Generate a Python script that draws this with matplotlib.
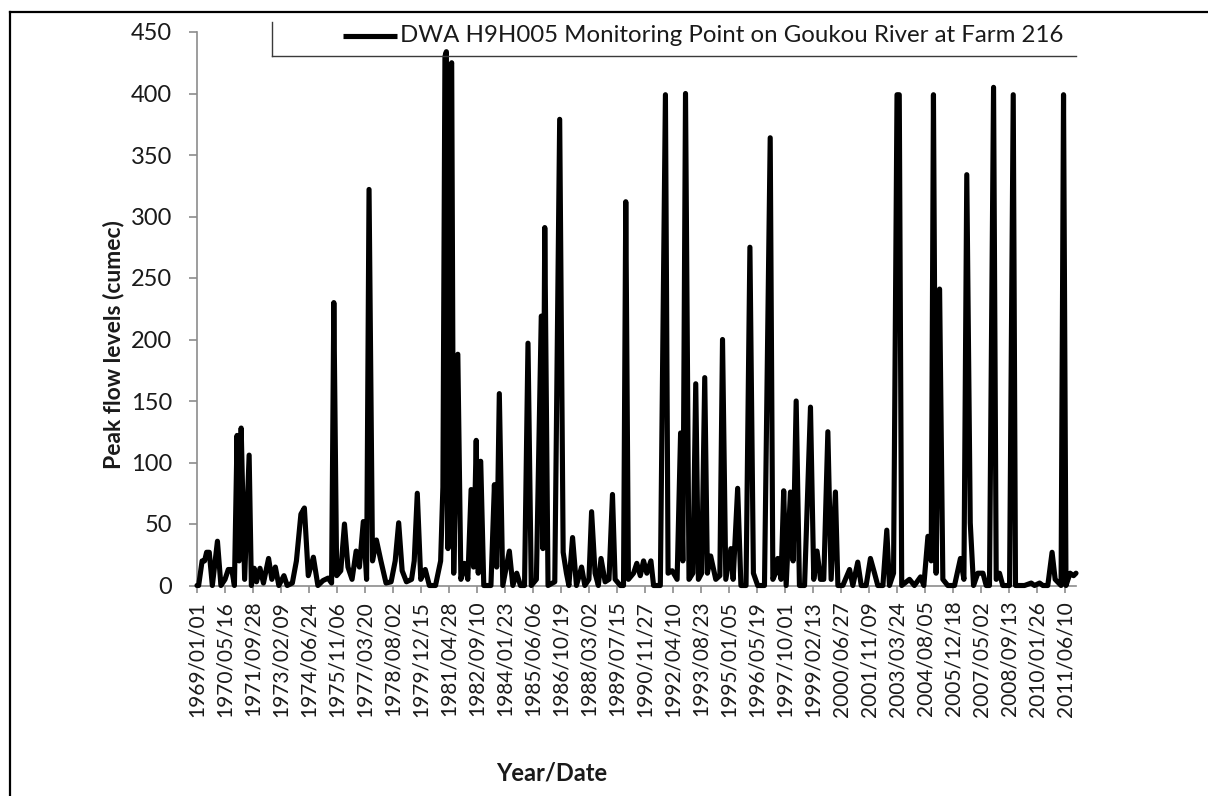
import matplotlib
matplotlib.use('Agg')
import matplotlib.pyplot as plt
import pandas as pd
from matplotlib.lines import Line2D

plt.rcParams['font.family'] = ['Lato', 'DejaVu Sans']

# ---- data (decimal years, peak flow in cumec) ----
years = [
    1969.00, 1969.08, 1969.25, 1969.37, 1969.47, 1969.60, 1969.75, 1970.00, 1970.17, 1970.37,
    1970.53, 1970.70, 1970.83, 1970.96, 1971.06, 1971.16, 1971.33, 1971.55, 1971.66, 1971.80,
    1971.91, 1972.08, 1972.25, 1972.50, 1972.66, 1972.83, 1973.00, 1973.25, 1973.41, 1973.66,
    1973.86, 1974.08, 1974.25, 1974.44, 1974.69, 1974.91, 1975.16, 1975.41, 1975.58, 1975.69,
    1975.83, 1976.03, 1976.21, 1976.38, 1976.58, 1976.78, 1976.94, 1977.13, 1977.29, 1977.41,
    1977.58, 1977.77, 1977.99, 1978.24, 1978.49, 1978.69, 1978.86, 1979.03, 1979.24, 1979.49,
    1979.62, 1979.77, 1979.94, 1980.16, 1980.36, 1980.66, 1980.91, 1981.02, 1981.12, 1981.19,
    1981.27, 1981.36, 1981.45, 1981.55, 1981.75, 1981.90, 1982.07, 1982.24, 1982.40, 1982.52,
    1982.65, 1982.75, 1982.87, 1983.02, 1983.37, 1983.54, 1983.65, 1983.78, 1983.95, 1984.27,
    1984.44, 1984.63, 1984.81, 1985.01, 1985.18, 1985.34, 1985.59, 1985.83, 1985.91, 1986.00,
    1986.16, 1986.49, 1986.73, 1986.90, 1987.06, 1987.18, 1987.36, 1987.55, 1987.80, 1987.96,
    1988.16, 1988.29, 1988.46, 1988.62, 1988.75, 1988.95, 1989.14, 1989.31, 1989.44, 1989.69,
    1989.85, 1989.96, 1990.09, 1990.34, 1990.50, 1990.67, 1990.83, 1990.99, 1991.19, 1991.32,
    1991.65, 1991.90, 1992.03, 1992.23, 1992.47, 1992.64, 1992.75, 1992.88, 1993.05, 1993.24,
    1993.38, 1993.51, 1993.67, 1993.82, 1993.95, 1994.11, 1994.36, 1994.56, 1994.69, 1994.85,
    1995.10, 1995.21, 1995.43, 1995.59, 1995.84, 1996.03, 1996.20, 1996.41, 1996.74, 1997.02,
    1997.15, 1997.28, 1997.39, 1997.55, 1997.68, 1997.80, 1998.01, 1998.14, 1998.29, 1998.45,
    1998.70, 1998.99, 1999.15, 1999.31, 1999.48, 1999.64, 1999.84, 2000.00, 2000.21, 2000.33,
    2000.57, 2000.90, 2001.06, 2001.30, 2001.47, 2001.71, 2001.92, 2002.12, 2002.28, 2002.53,
    2002.72, 2002.85, 2003.05, 2003.22, 2003.33, 2003.45, 2003.83, 2004.07, 2004.37, 2004.53,
    2004.73, 2004.89, 2005.00, 2005.13, 2005.30, 2005.46, 2005.70, 2006.03, 2006.32, 2006.49,
    2006.63, 2006.80, 2006.96, 2007.17, 2007.42, 2007.58, 2007.74, 2007.94, 2008.07, 2008.23,
    2008.39, 2008.72, 2008.90, 2009.01, 2009.45, 2009.78, 2009.94, 2010.19, 2010.35, 2010.59,
    2010.80, 2010.95, 2011.24, 2011.36, 2011.48, 2011.68, 2011.85, 2011.97,
]
flow = [
    0, 0, 20, 20, 27, 27, 0, 36, 0, 5,
    13, 13, 0, 122, 20, 128, 5, 106, 0, 14,
    3, 14, 2, 22, 5, 15, 0, 8, 0, 2,
    20, 58, 63, 8, 23, 0, 4, 6, 2, 230,
    8, 12, 50, 15, 5, 28, 15, 52, 5, 322,
    20, 37, 20, 2, 3, 20, 51, 12, 3, 5,
    20, 75, 5, 13, 0, 0, 20, 80, 430, 434,
    30, 420, 425, 10, 188, 5, 18, 5, 78, 15,
    118, 10, 101, 0, 0, 82, 15, 156, 0, 28,
    0, 10, 0, 0, 197, 0, 5, 219, 30, 291,
    0, 3, 379, 27, 10, 0, 39, 0, 15, 0,
    5, 60, 10, 0, 22, 3, 5, 74, 5, 0,
    0, 312, 5, 10, 18, 8, 20, 10, 20, 0,
    0, 399, 10, 12, 5, 124, 20, 400, 5, 10,
    164, 5, 10, 169, 10, 24, 5, 8, 200, 5,
    30, 5, 79, 0, 0, 275, 10, 0, 0, 364,
    5, 10, 22, 5, 77, 0, 76, 20, 150, 0,
    0, 145, 5, 28, 5, 5, 125, 5, 76, 0,
    0, 13, 0, 19, 0, 0, 22, 10, 0, 0,
    45, 0, 10, 399, 399, 0, 5, 0, 7, 0,
    40, 20, 399, 10, 241, 5, 0, 0, 22, 5,
    334, 51, 0, 10, 10, 0, 0, 405, 5, 10,
    0, 0, 399, 0, 0, 2, 0, 2, 0, 0,
    27, 5, 0, 399, 0, 10, 8, 10,
]

series_label = "DWA H9H005 Monitoring Point on Goukou River at Farm 216"
tick_labels = [
    "1969/01/01", "1970/05/16", "1971/09/28", "1973/02/09", "1974/06/24", "1975/11/06",
    "1977/03/20", "1978/08/02", "1979/12/15", "1981/04/28", "1982/09/10", "1984/01/23",
    "1985/06/06", "1986/10/19", "1988/03/02", "1989/07/15", "1990/11/27", "1992/04/10",
    "1993/08/23", "1995/01/05", "1996/05/19", "1997/10/01", "1999/02/13", "2000/06/27",
    "2001/11/09", "2003/03/24", "2004/08/05", "2005/12/18", "2007/05/02", "2008/09/13",
    "2010/01/26", "2011/06/10",
]
y_ticks = [0, 50, 100, 150, 200, 250, 300, 350, 400, 450]


def to_date(y):
    yr = int(y)
    start = pd.Timestamp(year=yr, month=1, day=1)
    length = (pd.Timestamp(year=yr + 1, month=1, day=1) - start).days
    return start + pd.Timedelta(days=(y - yr) * length)


dates = [to_date(y) for y in years]
tick_dates = pd.to_datetime(tick_labels, format="%Y/%m/%d")

W, H = 1208, 796
fig = plt.figure(figsize=(W / 100, H / 100), dpi=100)
x0, x1, ytop, ybot = 197, 1076, 32, 585.5
ax = fig.add_axes([x0 / W, 1 - ybot / H, (x1 - x0) / W, (ybot - ytop) / H])

ax.plot(dates, flow, color="black", lw=3.7, solid_joinstyle="round",
        solid_capstyle="round", zorder=3, clip_on=False)

ax.set_xlim(tick_dates[0], dates[-1])
ax.set_ylim(0, 450)
ax.set_yticks(y_ticks)
ax.set_xticks(tick_dates)
ax.set_xticklabels(tick_labels, rotation=90)

grey = "#8c8c8c"
for s in ("top", "right"):
    ax.spines[s].set_visible(False)
for s in ("left", "bottom"):
    ax.spines[s].set_color(grey)
    ax.spines[s].set_linewidth(1.2)
ax.tick_params(axis="y", direction="out", length=6, width=1.2, color=grey,
               pad=12, labelsize=17, labelcolor="#1a1a1a")
ax.tick_params(axis="x", direction="out", length=5, width=1.2, color=grey,
               pad=6, labelsize=15, labelcolor="#1a1a1a")
ax.patch.set_alpha(0)

# legend (manual, Excel-like partial frame)
ly = 1 - 36 / H
fig.add_artist(Line2D([343 / W, 397 / W], [ly, ly], color="black", lw=3.7,
                      solid_capstyle="butt"))
fig.text(400 / W, ly, series_label, ha="left", va="center", fontsize=17.3,
         color="#1a1a1a")
fig.add_artist(Line2D([272 / W, 272 / W], [1 - 22 / H, 1 - 56 / H],
                      color="#3a3a3a", lw=1.0))
fig.add_artist(Line2D([272 / W, 1076 / W], [1 - 56 / H, 1 - 56 / H],
                      color="#3a3a3a", lw=1.0))

# axis titles
fig.text(113 / W, 1 - 345 / H, "Peak flow levels (cumec)", rotation=90,
         ha="center", va="center", fontsize=16.5, fontweight="bold", color="#1a1a1a")
fig.text(552 / W, 1 - 773 / H, "Year/Date", ha="center", va="center",
         fontsize=17, fontweight="bold", color="#1a1a1a")

# outer chart border (left and top visible)
fig.add_artist(Line2D([10 / W, 10 / W], [1 - 12 / H, 0], color="black", lw=1.6))
fig.add_artist(Line2D([10 / W, 1], [1 - 12 / H, 1 - 12 / H], color="black", lw=1.6))

fig.savefig("out.png", dpi=100)
